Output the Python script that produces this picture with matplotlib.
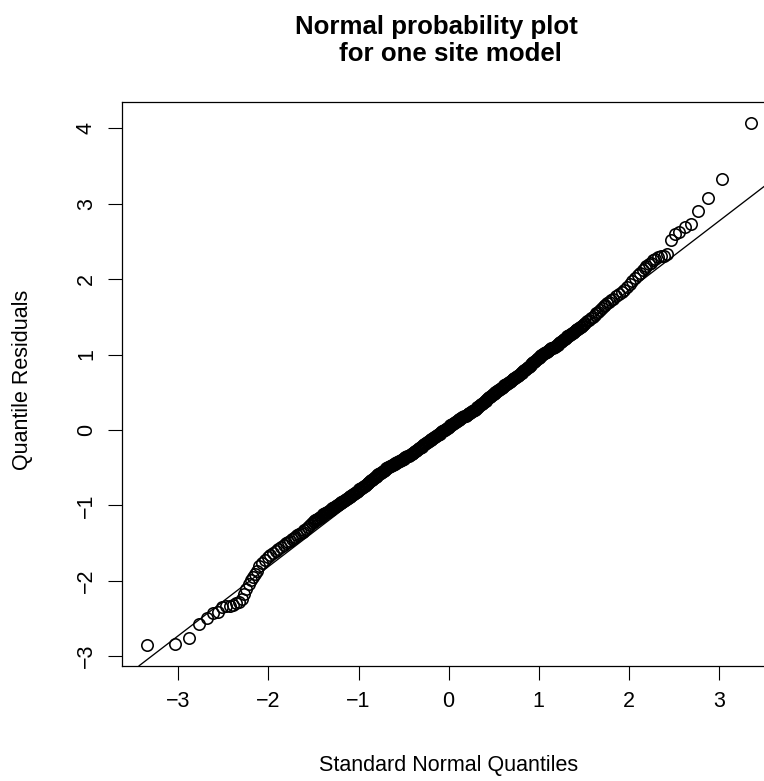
import matplotlib
matplotlib.use("Agg")
import matplotlib.pyplot as plt

plt.rcParams["font.family"] = ["Liberation Sans", "DejaVu Sans"]

# Theoretical normal quantiles and sorted quantile residuals
lower_x = [-3.353, -3.036, -2.878, -2.770, -2.687, -2.620, -2.561, -2.512, -2.468,
           -2.427, -2.391, -2.357, -2.326, -2.297, -2.270, -2.245, -2.221, -2.197,
           -2.176, -2.155, -2.13, -2.10, -2.07, -2.04, -2.01, -1.98, -1.95, -1.92,
           -1.89, -1.86, -1.83,
           -1.80, -1.78, -1.76, -1.74, -1.72, -1.70, -1.68, -1.66, -1.64, -1.62,
           -1.60, -1.58, -1.56, -1.54, -1.52]
lower_y = [-2.85, -2.84, -2.76, -2.57, -2.50, -2.43, -2.41, -2.35, -2.34,
           -2.33, -2.32, -2.30, -2.28, -2.24, -2.18, -2.11, -2.05, -1.99,
           -1.95, -1.91, -1.87, -1.81, -1.77, -1.73, -1.69, -1.66, -1.63, -1.60,
           -1.575, -1.55, -1.525,
           -1.50, -1.485, -1.47, -1.45, -1.435, -1.42, -1.40, -1.38, -1.365, -1.35,
           -1.33, -1.31, -1.285, -1.26, -1.24]

middle_x = [
    -1.50, -1.49, -1.48, -1.47, -1.46, -1.45, -1.44, -1.43, -1.42, -1.41,
    -1.40, -1.39, -1.38, -1.37, -1.36, -1.35, -1.34, -1.33, -1.32, -1.31,
    -1.30, -1.29, -1.28, -1.27, -1.26, -1.25, -1.24, -1.23, -1.22, -1.21,
    -1.20, -1.19, -1.18, -1.17, -1.16, -1.15, -1.14, -1.13, -1.12, -1.11,
    -1.10, -1.09, -1.08, -1.07, -1.06, -1.05, -1.04, -1.03, -1.02, -1.01,
    -1.00, -0.99, -0.98, -0.97, -0.96, -0.95, -0.94, -0.93, -0.92, -0.91,
    -0.90, -0.89, -0.88, -0.87, -0.86, -0.85, -0.84, -0.83, -0.82, -0.81,
    -0.80, -0.79, -0.78, -0.77, -0.76, -0.75, -0.74, -0.73, -0.72, -0.71,
    -0.70, -0.69, -0.68, -0.67, -0.66, -0.65, -0.64, -0.63, -0.62, -0.61,
    -0.60, -0.59, -0.58, -0.57, -0.56, -0.55, -0.54, -0.53, -0.52, -0.51,
    -0.50, -0.49, -0.48, -0.47, -0.46, -0.45, -0.44, -0.43, -0.42, -0.41,
    -0.40, -0.39, -0.38, -0.37, -0.36, -0.35, -0.34, -0.33, -0.32, -0.31,
    -0.30, -0.29, -0.28, -0.27, -0.26, -0.25, -0.24, -0.23, -0.22, -0.21,
    -0.20, -0.19, -0.18, -0.17, -0.16, -0.15, -0.14, -0.13, -0.12, -0.11,
    -0.10, -0.09, -0.08, -0.07, -0.06, -0.05, -0.04, -0.03, -0.02, -0.01,
    0.00, 0.01, 0.02, 0.03, 0.04, 0.05, 0.06, 0.07, 0.08, 0.09,
    0.10, 0.11, 0.12, 0.13, 0.14, 0.15, 0.16, 0.17, 0.18, 0.19,
    0.20, 0.21, 0.22, 0.23, 0.24, 0.25, 0.26, 0.27, 0.28, 0.29,
    0.30, 0.31, 0.32, 0.33, 0.34, 0.35, 0.36, 0.37, 0.38, 0.39,
    0.40, 0.41, 0.42, 0.43, 0.44, 0.45, 0.46, 0.47, 0.48, 0.49,
    0.50, 0.51, 0.52, 0.53, 0.54, 0.55, 0.56, 0.57, 0.58, 0.59,
    0.60, 0.61, 0.62, 0.63, 0.64, 0.65, 0.66, 0.67, 0.68, 0.69,
    0.70, 0.71, 0.72, 0.73, 0.74, 0.75, 0.76, 0.77, 0.78, 0.79,
    0.80, 0.81, 0.82, 0.83, 0.84, 0.85, 0.86, 0.87, 0.88, 0.89,
    0.90, 0.91, 0.92, 0.93, 0.94, 0.95, 0.96, 0.97, 0.98, 0.99,
    1.00, 1.01, 1.02, 1.03, 1.04, 1.05, 1.06, 1.07, 1.08, 1.09,
    1.10, 1.11, 1.12, 1.13, 1.14, 1.15, 1.16, 1.17, 1.18, 1.19,
    1.20, 1.21, 1.22, 1.23, 1.24, 1.25, 1.26, 1.27, 1.28, 1.29,
    1.30, 1.31, 1.32, 1.33, 1.34, 1.35, 1.36, 1.37, 1.38, 1.39,
    1.40, 1.41, 1.42, 1.43, 1.44, 1.45, 1.46, 1.47, 1.48, 1.49,
    1.50]
middle_y = [
    -1.22, -1.21, -1.20, -1.19, -1.185, -1.175, -1.165, -1.16, -1.15, -1.14,
    -1.13, -1.12, -1.115, -1.105, -1.10, -1.09, -1.085, -1.075, -1.065, -1.06,
    -1.05, -1.04, -1.035, -1.025, -1.02, -1.01, -1.00, -0.99, -0.985, -0.975,
    -0.97, -0.96, -0.955, -0.945, -0.94, -0.93, -0.92, -0.91, -0.905, -0.895,
    -0.89, -0.88, -0.87, -0.86, -0.855, -0.845, -0.835, -0.825, -0.82, -0.81,
    -0.80, -0.79, -0.78, -0.77, -0.765, -0.755, -0.745, -0.74, -0.73, -0.72,
    -0.71, -0.70, -0.69, -0.68, -0.67, -0.66, -0.65, -0.64, -0.63, -0.62,
    -0.61, -0.60, -0.59, -0.58, -0.575, -0.565, -0.555, -0.545, -0.54, -0.53,
    -0.52, -0.51, -0.505, -0.495, -0.49, -0.485, -0.48, -0.47, -0.465, -0.455,
    -0.45, -0.44, -0.435, -0.425, -0.42, -0.415, -0.41, -0.40, -0.395, -0.385,
    -0.38, -0.37, -0.365, -0.355, -0.35, -0.345, -0.34, -0.33, -0.325, -0.315,
    -0.31, -0.30, -0.29, -0.28, -0.275, -0.265, -0.255, -0.245, -0.24, -0.23,
    -0.22, -0.21, -0.20, -0.19, -0.185, -0.175, -0.165, -0.155, -0.15, -0.14,
    -0.13, -0.12, -0.115, -0.105, -0.10, -0.09, -0.08, -0.07, -0.065, -0.055,
    -0.05, -0.04, -0.03, -0.02, -0.01, 0.00, 0.005, 0.01, 0.02, 0.03,
    0.04, 0.05, 0.06, 0.07, 0.075, 0.085, 0.095, 0.10, 0.11, 0.12,
    0.13, 0.135, 0.145, 0.15, 0.16, 0.165, 0.17, 0.18, 0.185, 0.19,
    0.20, 0.205, 0.215, 0.22, 0.23, 0.24, 0.25, 0.255, 0.265, 0.27,
    0.28, 0.29, 0.30, 0.31, 0.32, 0.33, 0.34, 0.35, 0.36, 0.37,
    0.38, 0.39, 0.40, 0.41, 0.42, 0.43, 0.44, 0.45, 0.46, 0.47,
    0.48, 0.49, 0.50, 0.505, 0.515, 0.525, 0.535, 0.54, 0.55, 0.56,
    0.57, 0.58, 0.59, 0.595, 0.605, 0.615, 0.625, 0.63, 0.64, 0.65,
    0.66, 0.67, 0.68, 0.685, 0.695, 0.705, 0.715, 0.72, 0.73, 0.74,
    0.75, 0.76, 0.77, 0.78, 0.79, 0.80, 0.81, 0.82, 0.83, 0.84,
    0.85, 0.86, 0.87, 0.885, 0.895, 0.905, 0.915, 0.93, 0.94, 0.95,
    0.96, 0.97, 0.98, 0.99, 0.995, 1.005, 1.015, 1.02, 1.03, 1.04,
    1.05, 1.06, 1.065, 1.07, 1.08, 1.085, 1.09, 1.10, 1.105, 1.11,
    1.12, 1.13, 1.14, 1.15, 1.16, 1.17, 1.18, 1.19, 1.20, 1.21,
    1.22, 1.23, 1.24, 1.245, 1.255, 1.265, 1.275, 1.28, 1.29, 1.30,
    1.31, 1.32, 1.33, 1.335, 1.345, 1.355, 1.365, 1.37, 1.38, 1.39,
    1.40]

upper_x = [1.52, 1.54, 1.56, 1.58, 1.60, 1.62, 1.64, 1.66, 1.68, 1.70,
           1.72, 1.74, 1.76, 1.78, 1.80,
           1.83, 1.86, 1.89, 1.92, 1.95, 1.98, 2.01, 2.04, 2.07, 2.10, 2.13,
           2.16, 2.18, 2.197, 2.221, 2.245, 2.270, 2.297, 2.326, 2.357, 2.391,
           2.427, 2.468, 2.512, 2.561, 2.620, 2.687, 2.770, 2.878, 3.036, 3.353]
upper_y = [1.42, 1.44, 1.46, 1.48, 1.50, 1.525, 1.55, 1.57, 1.595, 1.62,
           1.64, 1.66, 1.68, 1.70, 1.72,
           1.74, 1.77, 1.80, 1.83, 1.86, 1.89, 1.93, 1.97, 2.01, 2.05, 2.08,
           2.12, 2.15, 2.17, 2.20, 2.22, 2.25, 2.27, 2.29, 2.30, 2.31,
           2.33, 2.52, 2.60, 2.62, 2.69, 2.73, 2.91, 3.08, 3.33, 4.07]

# Reference line through the quartiles
line_intercept = 0.02
line_slope = 0.916

x_ticks = [-3, -2, -1, 0, 1, 2, 3]
y_ticks = [-3, -2, -1, 0, 1, 2, 3, 4]

theoretical = lower_x + middle_x + upper_x
residuals = lower_y + middle_y + upper_y

W, H = 764, 781
fig = plt.figure(figsize=(W / 100, H / 100), dpi=100)
left, right, top, bottom = 122.3, 774.9, 102.0, 665.7
ax = fig.add_axes([left / W, 1 - bottom / H, (right - left) / W, (bottom - top) / H])

ax.plot(theoretical, residuals, linestyle="none", marker="o", markersize=8.2,
        markerfacecolor="none", markeredgecolor="black", markeredgewidth=1.15)
ax.axline((0, line_intercept), slope=line_slope, color="black", linewidth=0.95)

ax.set_xlim(-3.623, 3.623)
ax.set_ylim(-3.127, 4.349)
ax.set_xticks(x_ticks)
ax.set_yticks(y_ticks)
ax.tick_params(axis="both", direction="out", length=10.3, width=0.8,
               labelsize=15.5, pad=8, colors="black")
ax.tick_params(axis="y", labelrotation=90)
for lab in ax.get_yticklabels():
    lab.set_va("center")
for sp in ax.spines.values():
    sp.set_linewidth(0.9)
    sp.set_color("black")

# Title lines and axis labels
fig.text(436 / W, 1 - 34 / H, "Normal probability plot", ha="center", va="baseline",
         fontsize=18.6, fontweight="bold")
fig.text(450 / W, 1 - 61 / H, "for one site model", ha="center", va="baseline",
         fontsize=18.6, fontweight="bold")
fig.text(449 / W, 1 - 765 / H, "Standard Normal Quantiles", ha="center", va="center",
         fontsize=15.5)
fig.text(23 / W, 1 - 380 / H, "Quantile Residuals", ha="center", va="center",
         rotation=90, fontsize=15.5)

fig.savefig("out.png", dpi=100)
